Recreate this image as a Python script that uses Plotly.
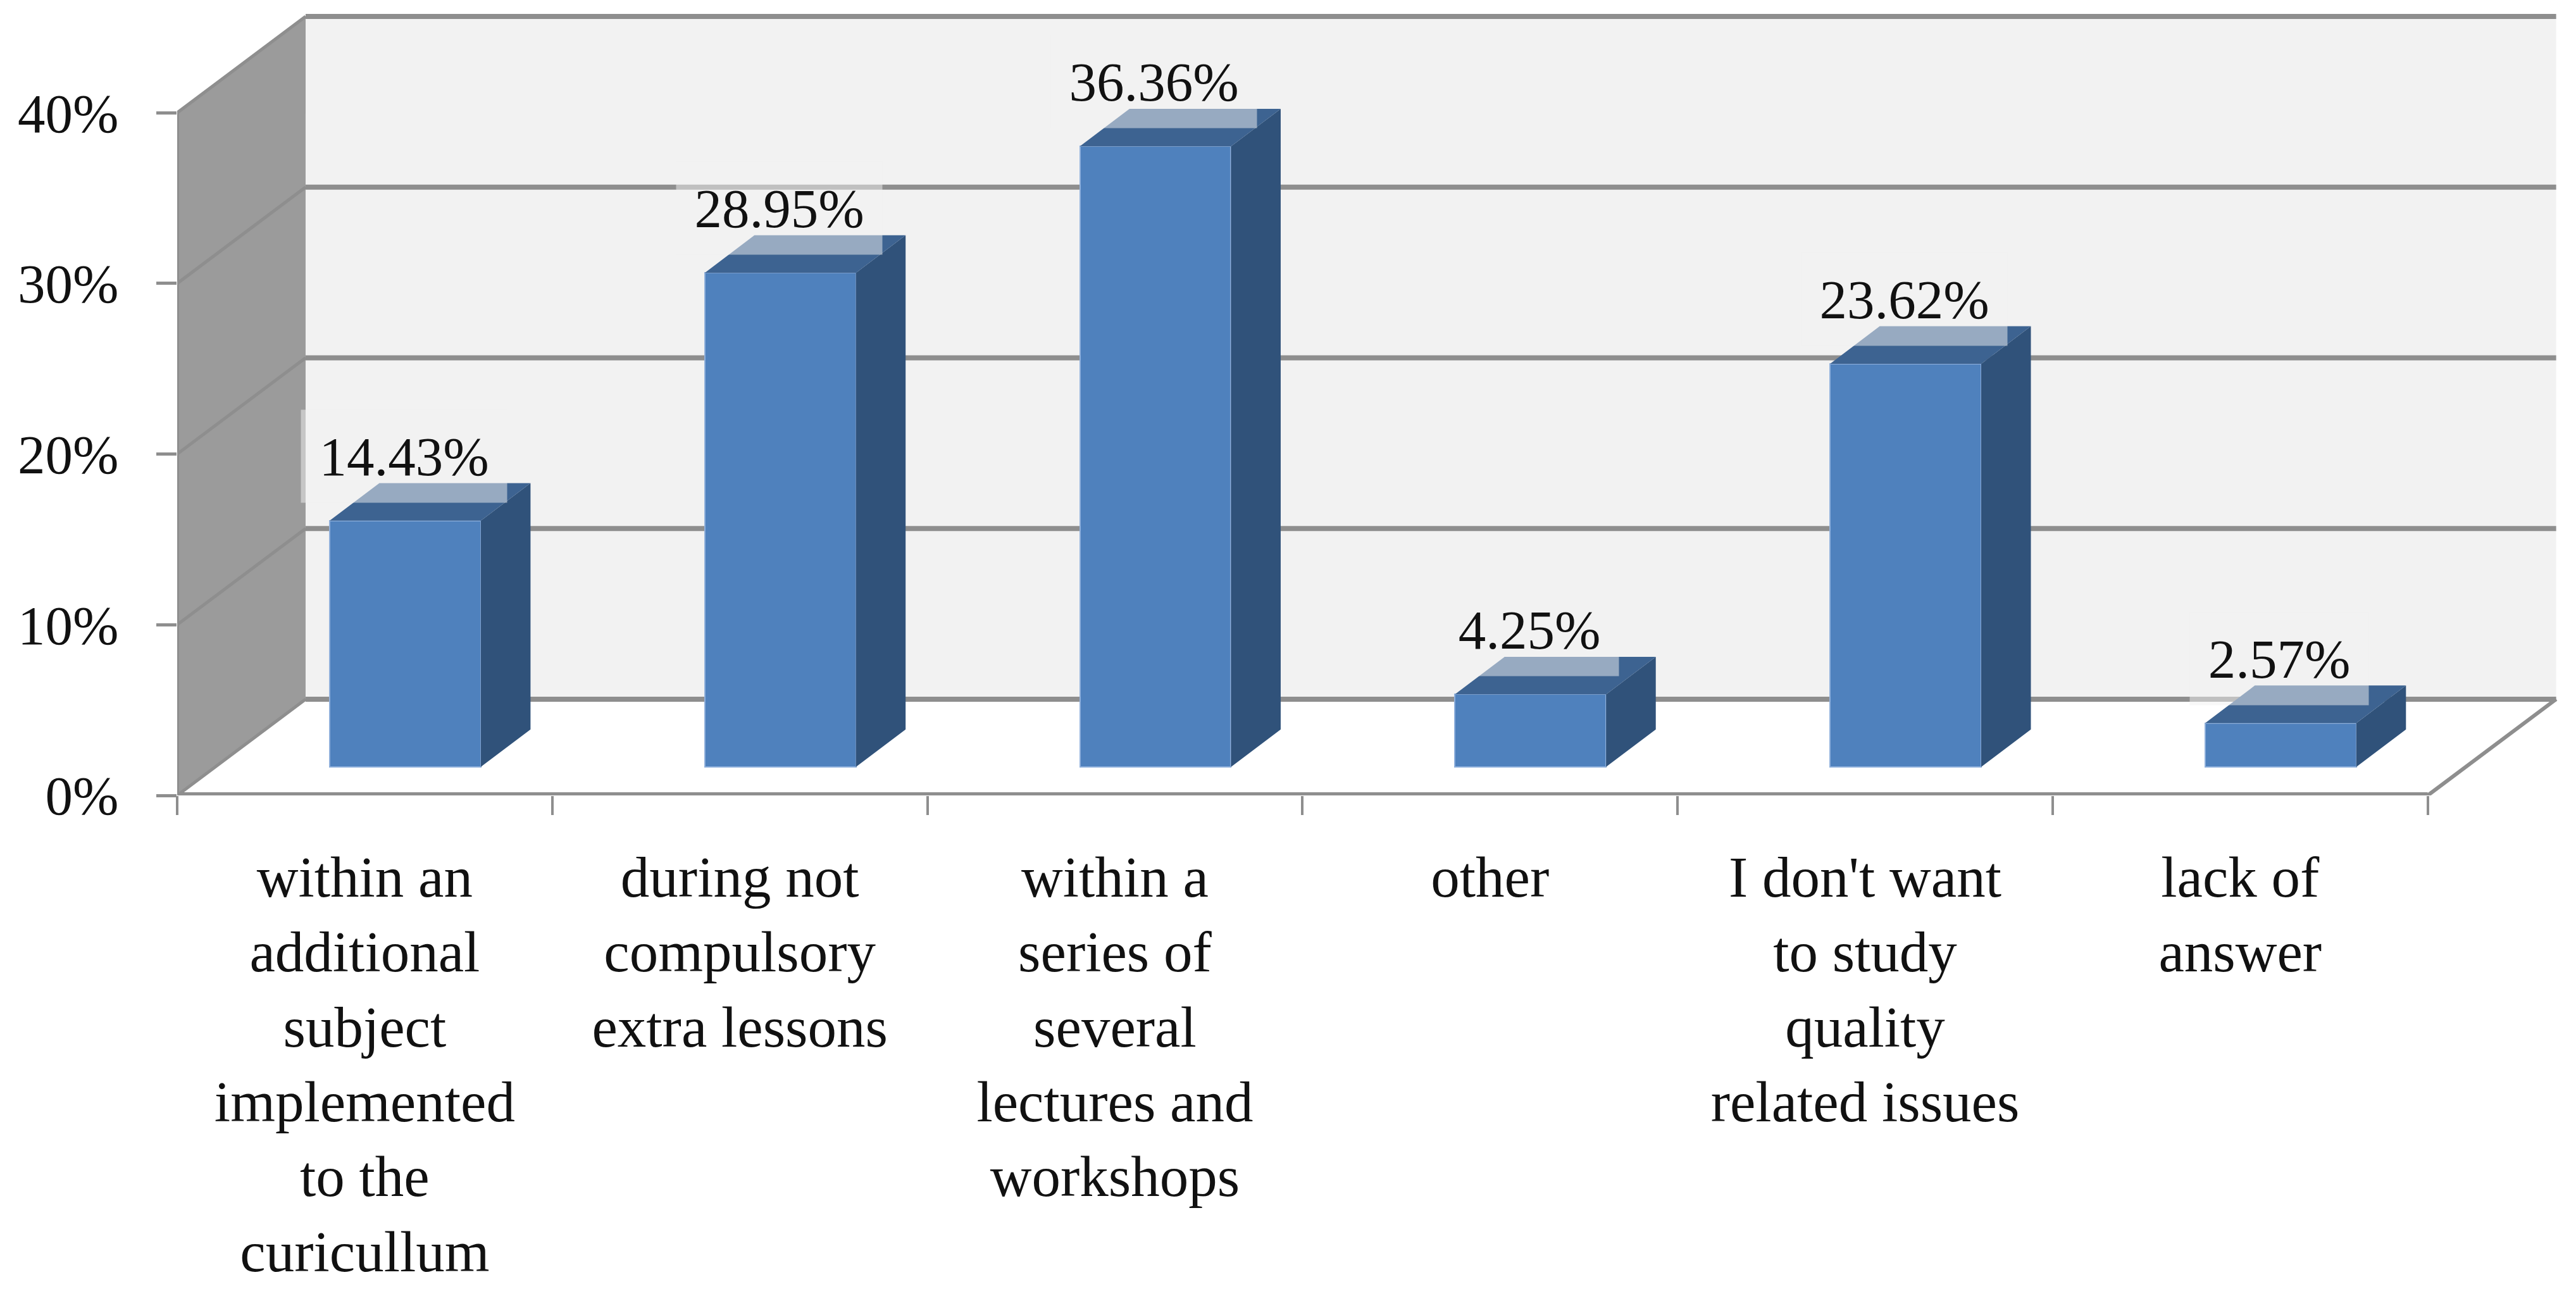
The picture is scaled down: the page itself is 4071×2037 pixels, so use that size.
import plotly.graph_objects as go

categories = [
    "within an<br>additional<br>subject<br>implemented<br>to the<br>curicullum",
    "during not<br>compulsory<br>extra lessons",
    "within a<br>series of<br>several<br>lectures and<br>workshops",
    "other",
    "I don't want<br>to study<br>quality<br>related issues",
    "lack of<br>answer",
]
values = [14.43, 28.95, 36.36, 4.25, 23.62, 2.57]
value_labels = ["14.43%", "28.95%", "36.36%", "4.25%", "23.62%", "2.57%"]
y_ticks = [0, 10, 20, 30, 40]
y_tick_labels = ["0%", "10%", "20%", "30%", "40%"]

W, H = 4071, 2037
ML, MR, MT, MB = 272, 23, 3, 788
X_RANGE = [-0.5, 5.87]
Y_RANGE = [0, 46.2]

# oblique projection, in axis units
WALL_DX, WALL_DY = 0.3424, 5.64
BAR_SHIFT, BAR_BASE = 0.108, 1.67
BAR_W = 0.403
BAR_DX, BAR_DY = 0.1325, 2.2

FRONT, SIDE, TOP = "#4F81BD", "#30527A", "#3D6391"
GRID, WALL_SIDE, WALL_BACK = "#8E8E8E", "#9B9B9B", "#F2F2F2"
FONT = "Liberation Serif"

x0, x1 = -0.5, 5.5
shapes = []


def poly(pts, fill):
    path = "M " + " L ".join(f"{a},{b}" for a, b in pts) + " Z"
    shapes.append(dict(type="path", path=path, xref="x", yref="y", fillcolor=fill,
                       line=dict(width=0), layer="below"))


def seg(a, b, c, d, w=8, color=GRID):
    shapes.append(dict(type="line", x0=a, y0=b, x1=c, y1=d, xref="x", yref="y",
                       line=dict(color=color, width=w), layer="below"))


top = y_ticks[-1]
poly([(x0 + WALL_DX, WALL_DY), (x1 + WALL_DX, WALL_DY),
      (x1 + WALL_DX, top + WALL_DY), (x0 + WALL_DX, top + WALL_DY)], WALL_BACK)
poly([(x0, 0), (x0 + WALL_DX, WALL_DY), (x0 + WALL_DX, top + WALL_DY), (x0, top)], WALL_SIDE)
for v in y_ticks:
    seg(x0 + WALL_DX, v + WALL_DY, x1 + WALL_DX, v + WALL_DY)
    seg(x0, v, x0 + WALL_DX, v + WALL_DY, w=5)
seg(x0, 0, x0, top, w=6)
seg(x0, 0, x1, 0, w=10)
seg(x1, 0, x1 + WALL_DX, WALL_DY, w=6)

side_x, side_y, top_x, top_y = [], [], [], []
for i, v in enumerate(values):
    r = i + BAR_SHIFT + BAR_W / 2
    l = i + BAR_SHIFT - BAR_W / 2
    b, t = BAR_BASE, BAR_BASE + v
    side_x += [r, r + BAR_DX, r + BAR_DX, r, r, None]
    side_y += [b, b + BAR_DY, t + BAR_DY, t, b, None]
    top_x += [l, l + BAR_DX, r + BAR_DX, r, l, None]
    top_y += [t, t + BAR_DY, t + BAR_DY, t, t, None]

fig = go.Figure()
fig.add_trace(go.Bar(
    x=[i + BAR_SHIFT for i in range(len(values))], y=values, base=BAR_BASE, width=BAR_W,
    marker=dict(color=FRONT, line=dict(color="#8FB0DC", width=2)),
    showlegend=False, cliponaxis=False, hoverinfo="y",
))
for xs, ys, col in ((side_x, side_y, SIDE), (top_x, top_y, TOP)):
    fig.add_trace(go.Scatter(x=xs, y=ys, mode="lines", fill="toself", fillcolor=col,
                             line=dict(width=0), showlegend=False, hoverinfo="skip"))

annotations = []
for i, (v, txt) in enumerate(zip(values, value_labels)):
    annotations.append(dict(
        x=i + BAR_SHIFT, y=BAR_BASE + v, xref="x", yref="y", text=txt, showarrow=False,
        xanchor="center", yanchor="bottom", yshift=28, xshift=-2,
        width=325 if len(txt) > 5 else 282, height=146, borderpad=0, valign="middle",
        bgcolor="rgba(242,242,242,0.5)", font=dict(family=FONT, size=87, color="#111111"),
    ))

fig.update_layout(
    width=W, height=H, autosize=False, paper_bgcolor="white", plot_bgcolor="white",
    margin=dict(l=ML, r=MR, t=MT, b=MB, pad=0), bargap=0, showlegend=False,
    shapes=shapes, annotations=annotations,
    xaxis=dict(
        range=X_RANGE, tickmode="array", tickvals=list(range(len(categories))), ticktext=categories,
        ticks="", showgrid=False, zeroline=False, showline=False, automargin=False,
        ticklabelstandoff=68, tickangle=0,
        tickfont=dict(family=FONT, size=91, color="#111111"),
        minor=dict(ticks="outside", tick0=-0.5, dtick=1, ticklen=30, tickwidth=4, tickcolor=GRID, showgrid=False),
    ),
    yaxis=dict(
        range=Y_RANGE, tickmode="array", tickvals=y_ticks, ticktext=y_tick_labels,
        ticks="outside", ticklen=32, tickwidth=5, tickcolor=GRID, showgrid=False,
        zeroline=False, showline=False, automargin=False, ticklabelstandoff=42,
        tickfont=dict(family=FONT, size=87, color="#111111"),
    ),
)
fig.write_html("out.html")
